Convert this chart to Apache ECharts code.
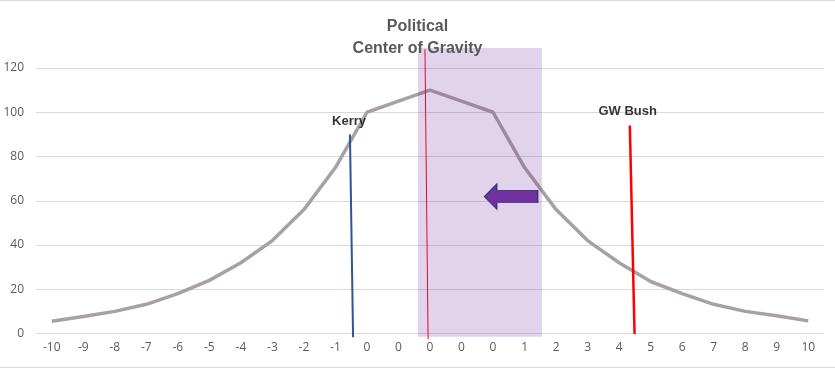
<!DOCTYPE html>
<html>
<head>
<meta charset="utf-8">
<script src="https://cdn.jsdelivr.net/npm/echarts@6/dist/echarts.min.js"></script>
<style>html,body{margin:0;padding:0;background:#fff}#c{width:835px;height:369px}</style>
</head>
<body>
<div id="c"></div>
<script>
// ---- data ----
const categories = ['-10','-9','-8','-7','-6','-5','-4','-3','-2','-1','0','0','0','0','0','1','2','3','4','5','6','7','8','9','10'];
const distribution = [5.5, 7.7, 10, 13.2, 18, 24, 32, 42, 56, 75, 100, 105, 110, 105, 100, 75, 56, 42, 32, 23.5, 18, 13.2, 10, 8, 5.7];
const yTicks = [0, 20, 40, 60, 80, 100, 120];
// annotation positions in data space (x = category index, y = value)
const kerryLine = [[9.46, 90], [9.56, -1.7]];
const bushLine = [[18.34, 94], [18.49, -0.2]];
const centerLine = [[11.84, 128.5], [11.94, -2.6]];
const centerBand = [[11.62, -1.5, 15.55, 129]];
const arrowPoint = [[14.57, 61.9]];
const textLabels = [
  { name: 'Kerry', value: [9.43, 95.9] },
  { name: 'GW Bush', value: [18.27, 100.4] }
];
const titleText = 'Political\nCenter of Gravity';

const chart = echarts.init(document.getElementById('c'), null, { renderer: 'canvas' });
const font = '"Open Sans", "Liberation Sans", sans-serif';
chart.setOption({
  animation: false,
  title: {
    text: titleText,
    left: 'center',
    top: 11,
    textStyle: { fontFamily: '"Liberation Sans", Arial, sans-serif', fontSize: 16, fontWeight: 'bold', color: '#595959', lineHeight: 22 }
  },
  grid: { left: 36, right: 11, top: 68, bottom: 35.5, containLabel: false },
  xAxis: [{
    type: 'category',
    data: categories,
    boundaryGap: true,
    axisLine: { lineStyle: { color: '#d9d9d9', width: 1 } },
    axisTick: { show: false },
    axisLabel: { interval: 0, color: '#595959', fontSize: 12, fontFamily: font, margin: 8 },
    splitLine: { show: false }
  }, {
    type: 'value',
    min: -0.5,
    max: 24.5,
    show: false,
    splitLine: { show: false }
  }],
  yAxis: {
    type: 'value',
    min: yTicks[0],
    max: yTicks[yTicks.length - 1],
    interval: 20,
    axisLine: { show: false },
    axisTick: { show: false },
    axisLabel: { color: '#595959', fontSize: 12, fontFamily: font, margin: 12 },
    splitLine: { lineStyle: { color: '#d9d9d9', width: 1 } }
  },
  series: [
    {
      type: 'line',
      data: distribution,
      xAxisIndex: 0,
      symbol: 'none',
      lineStyle: { color: '#a8a1a1', width: 3.5 },
      z: 2
    },
    {
      type: 'line', xAxisIndex: 1, data: centerLine, symbol: 'none', clip: false,
      lineStyle: { color: '#ff0000', width: 1 }, z: 2
    },
    {
      type: 'custom', xAxisIndex: 1, data: centerBand, clip: false, z: 3,
      renderItem: function (params, api) {
        const p0 = api.coord([api.value(0), api.value(3)]);
        const p1 = api.coord([api.value(2), api.value(1)]);
        return {
          type: 'rect',
          shape: { x: p0[0], y: p0[1], width: p1[0] - p0[0], height: p1[1] - p0[1] },
          style: { fill: 'rgba(112,48,160,0.21)' }
        };
      }
    },
    {
      type: 'line', xAxisIndex: 1, data: kerryLine, symbol: 'none', clip: false,
      lineStyle: { color: '#2f5597', width: 2 }, z: 4
    },
    {
      type: 'line', xAxisIndex: 1, data: bushLine, symbol: 'none', clip: false,
      lineStyle: { color: '#ff0000', width: 2.5 }, z: 4
    },
    {
      type: 'scatter', xAxisIndex: 1, data: arrowPoint, z: 5,
      symbol: 'path://M0,12.5 L12.4,0 L12.4,6.3 L53.4,6.3 L53.4,18.7 L12.4,18.7 L12.4,25 Z',
      symbolSize: [53.4, 25],
      symbolKeepAspect: false,
      itemStyle: { color: '#7030a0', borderColor: '#2f3a6e', borderWidth: 1, opacity: 1 }
    },
    {
      type: 'scatter', xAxisIndex: 1, data: textLabels, z: 6,
      symbolSize: 1,
      itemStyle: { color: 'rgba(0,0,0,0)' },
      label: {
        show: true, position: 'inside', formatter: '{b}',
        color: '#000', fontSize: 13, fontWeight: 'bold', fontFamily: '"Liberation Sans", Arial, sans-serif'
      }
    }
  ],
  graphic: [
    { type: 'line', shape: { x1: 0, y1: 0.5, x2: 835, y2: 0.5 }, style: { stroke: '#d9d9d9', lineWidth: 1 } },
    { type: 'line', shape: { x1: 0, y1: 367.5, x2: 835, y2: 367.5 }, style: { stroke: '#d9d9d9', lineWidth: 1 } }
  ]
});
</script>
</body>
</html>
